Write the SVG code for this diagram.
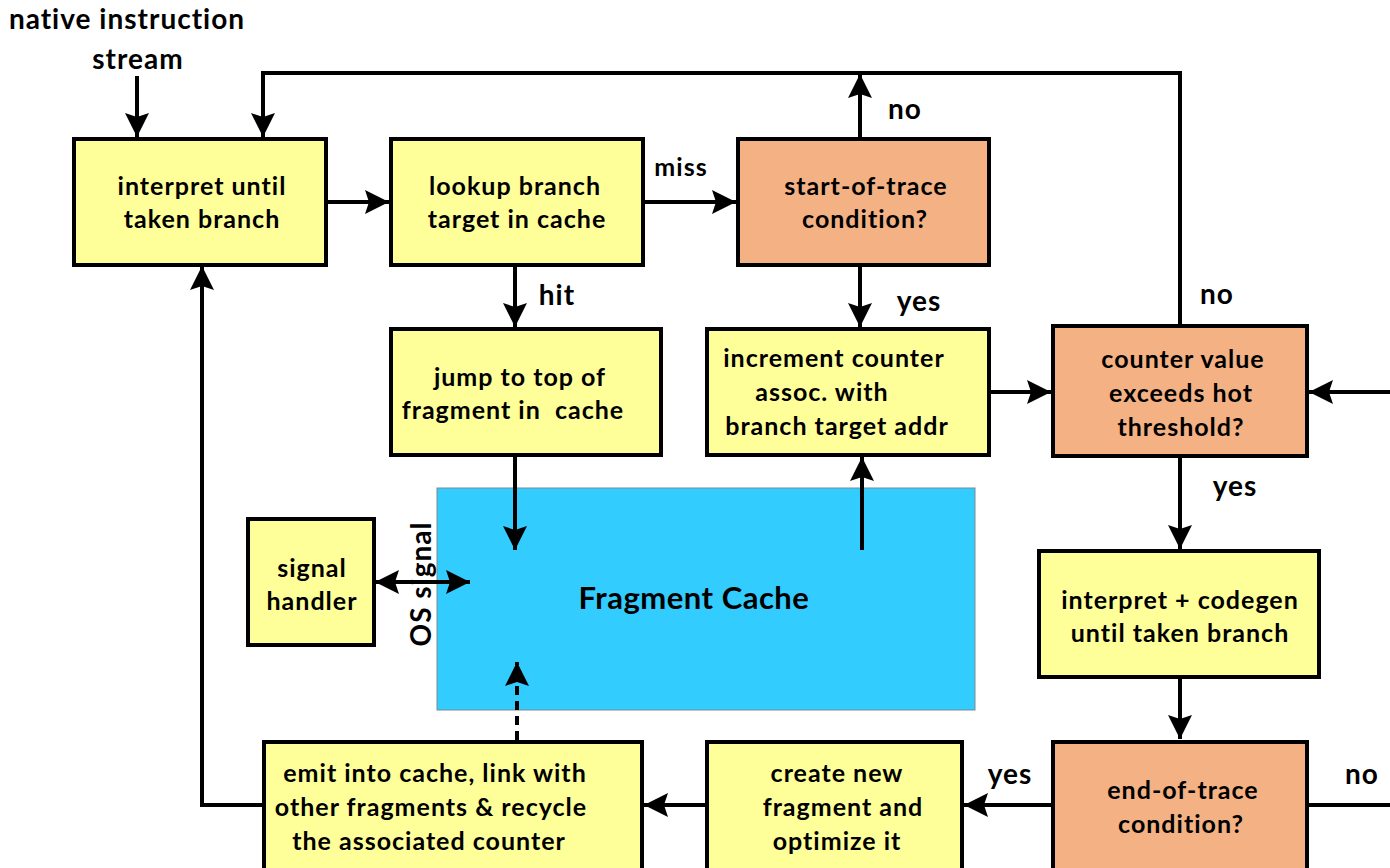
<svg xmlns="http://www.w3.org/2000/svg" width="1390" height="868" viewBox="0 0 1390 868">
<style>
text{font-family:Lato,"Open Sans","Liberation Sans",sans-serif;font-weight:bold;font-size:25px;letter-spacing:1px;fill:#000;text-anchor:middle}
.l{font-size:28px;letter-spacing:1px}
.big{font-size:31px;letter-spacing:0.5px}
.y{fill:#FFFF99;stroke:#000;stroke-width:4}
.o{fill:#F4B183;stroke:#000;stroke-width:4}
.c{fill:none;stroke:#000;stroke-width:4}
.a{marker-end:url(#ah)}
</style>
<defs>
<marker id="ah" markerWidth="24" markerHeight="24" refX="24" refY="12" orient="auto-start-reverse" markerUnits="userSpaceOnUse">
<path d="M0,0 L24,12 L0,24 L4,12 z" fill="#000"/>
</marker>
</defs>
<rect width="1390" height="868" fill="#fff"/>
<g id="labels">
<text class="l" x="127" y="29">native instruction</text>
<text class="l" x="138" y="69">stream</text>
<text x="681" y="176">miss</text>
<text class="l" x="557" y="305">hit</text>
<text class="l" x="905" y="119">no</text>
<text class="l" x="919" y="311">yes</text>
<text class="l" x="1217" y="304">no</text>
<text class="l" x="1235" y="496">yes</text>
<text class="l" x="1010" y="784">yes</text>
<text class="l" x="1362" y="784">no</text>
<text class="l" transform="translate(431,584) rotate(-90)">OS signal</text>
</g>
<g id="fragment-cache">
<rect x="437" y="488" width="538" height="222" fill="#33CCFF" stroke="#7a8a90" stroke-width="1"/>
<text class="big" x="694" y="609">Fragment Cache</text>
</g>
<g id="connectors">
<line class="c a" x1="137" y1="76" x2="137" y2="137"/>
<polyline class="c a" points="1180,324 1180,73 263,73 263,137"/>
<line class="c a" x1="860" y1="137" x2="860" y2="74"/>
<line class="c a" x1="328" y1="202" x2="389" y2="202"/>
<line class="c a" x1="645" y1="202" x2="736" y2="202"/>
<line class="c a" x1="515" y1="265" x2="515" y2="327"/>
<line class="c a" x1="860" y1="265" x2="860" y2="327"/>
<line class="c a" x1="990" y1="392" x2="1051" y2="392"/>
<line class="c a" x1="1390" y1="392" x2="1309" y2="392"/>
<line class="c a" x1="1180" y1="457" x2="1180" y2="549"/>
<line class="c a" x1="1180" y1="678" x2="1180" y2="739"/>
<line class="c a" x1="1052" y1="805" x2="964" y2="805"/>
<line class="c" x1="1308" y1="805" x2="1390" y2="805"/>
<line class="c a" x1="706" y1="805" x2="644" y2="805"/>
<polyline class="c a" points="263,805 202,805 202,266"/>
<line class="c a" x1="515" y1="456" x2="515" y2="550"/>
<line class="c a" x1="862" y1="550" x2="862" y2="457"/>
<line class="c a" x1="517" y1="740" x2="517" y2="662" stroke-dasharray="9,6"/>
<line class="c" x1="375" y1="582" x2="470" y2="582" marker-start="url(#ah)" marker-end="url(#ah)"/>
</g>
<g id="interpret">
<rect class="y" x="74" y="139" width="252" height="126"/>
<text x="202" y="195">interpret until</text>
<text x="202" y="228">taken branch</text>
</g>
<g id="lookup">
<rect class="y" x="391" y="139" width="252" height="126"/>
<text x="515" y="195">lookup branch</text>
<text x="517" y="228">target in cache</text>
</g>
<g id="start-of-trace">
<rect class="o" x="738" y="139" width="251" height="126"/>
<text x="866" y="195">start-of-trace</text>
<text x="865" y="228">condition?</text>
</g>
<g id="jump">
<rect class="y" x="391" y="329" width="270" height="126"/>
<text x="520" y="386">jump to top of</text>
<text x="513" y="419" style="white-space:pre">fragment in  cache</text>
</g>
<g id="increment">
<rect class="y" x="707" y="329" width="282" height="126"/>
<text x="834" y="367">increment counter</text>
<text x="822" y="401">assoc. with</text>
<text x="837" y="435">branch target addr</text>
</g>
<g id="counter-value">
<rect class="o" x="1053" y="326" width="254" height="130"/>
<text x="1183" y="368">counter value</text>
<text x="1181" y="402">exceeds hot</text>
<text x="1181" y="436">threshold?</text>
</g>
<g id="codegen">
<rect class="y" x="1039" y="551" width="280" height="126"/>
<text x="1180" y="609">interpret + codegen</text>
<text x="1180" y="642">until taken branch</text>
</g>
<g id="end-of-trace">
<rect class="o" x="1053" y="742" width="254" height="140"/>
<text x="1183" y="799">end-of-trace</text>
<text x="1181" y="833">condition?</text>
</g>
<g id="create">
<rect class="y" x="707" y="742" width="255" height="140"/>
<text x="837" y="782">create new</text>
<text x="843" y="816">fragment and</text>
<text x="837" y="850">optimize it</text>
</g>
<g id="emit">
<rect class="y" x="264" y="742" width="378" height="140"/>
<text x="435" y="782">emit into cache, link with</text>
<text x="431" y="816">other fragments &amp; recycle</text>
<text x="429" y="850">the associated counter</text>
</g>
<g id="signal-handler">
<rect class="y" x="248" y="519" width="126" height="126"/>
<text x="312" y="577">signal</text>
<text x="312" y="610">handler</text>
</g>
</svg>
